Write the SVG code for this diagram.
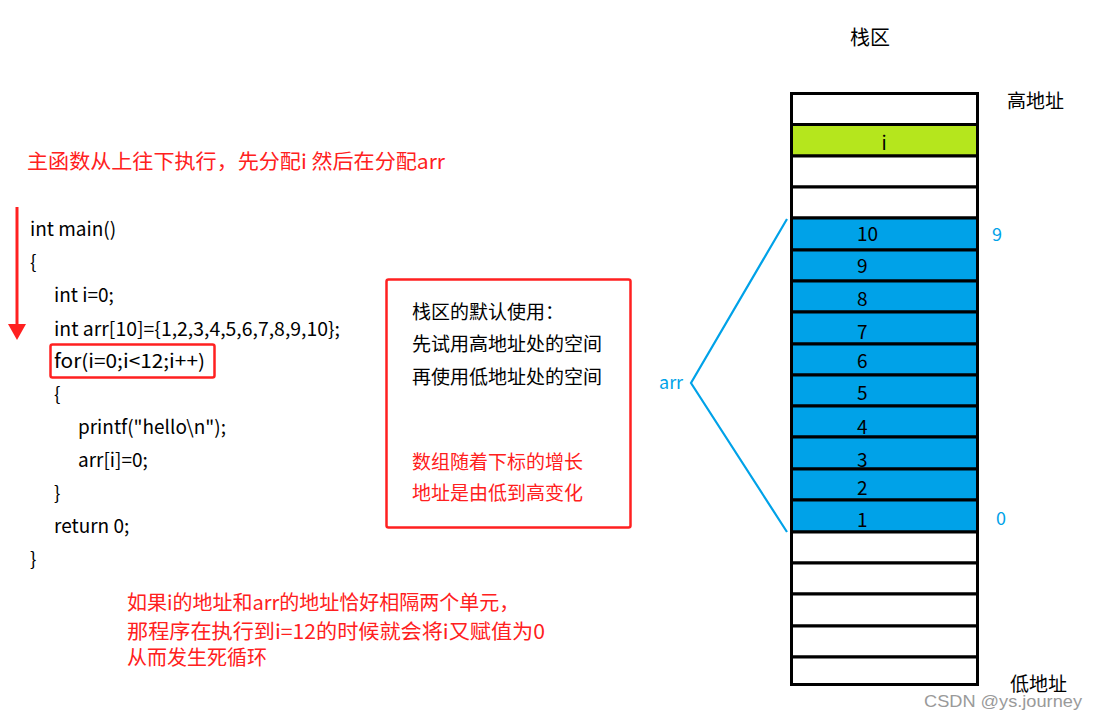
<svg xmlns="http://www.w3.org/2000/svg" width="1097" height="721" viewBox="0 0 1097 721">
<style>
text{font-family:"Noto Sans CJK SC","Noto Sans",sans-serif;}
.code{font-size:19px;fill:#000;}
.red{fill:#FF2020;font-size:20px;}
.redbox{fill:#FF2020;font-size:19px;}
.blk{fill:#000;font-size:19px;}
.blue{fill:#00A2E8;font-size:18px;}
.num{fill:#000;font-size:19px;}
.cell{stroke:#000;stroke-width:3;}
.w{fill:#fff;}
.g{fill:#B5E61D;}
.b{fill:#00A2E8;}
</style>
<defs>
<marker id="redHead" viewBox="0 0 16 18" refX="1" refY="9" markerWidth="16" markerHeight="18" markerUnits="userSpaceOnUse" orient="auto">
<path d="M0,0 L16,9 L0,18 Z" fill="#FF2020"/>
</marker>
</defs>
<rect width="1097" height="721" fill="#fff"/>

<g id="title">
<text class="red" x="27" y="169" textLength="418" lengthAdjust="spacingAndGlyphs">主函数从上往下执行，先分配i 然后在分配arr</text>
</g>

<g id="code">
<text class="code" x="30" y="236">int main()</text>
<text class="code" x="30" y="269">{</text>
<text class="code" x="54" y="302">int i=0;</text>
<text class="code" x="54" y="336" textLength="286" lengthAdjust="spacingAndGlyphs">int arr[10]={1,2,3,4,5,6,7,8,9,10};</text>
<text class="code" x="54" y="368" textLength="151" lengthAdjust="spacingAndGlyphs">for(i=0;i&lt;12;i++)</text>
<text class="code" x="54" y="401">{</text>
<text class="code" x="78" y="434" textLength="148" lengthAdjust="spacingAndGlyphs">printf("hello\n");</text>
<text class="code" x="78" y="467">arr[i]=0;</text>
<text class="code" x="54" y="500">}</text>
<text class="code" x="54" y="533">return 0;</text>
<text class="code" x="30" y="566">}</text>
</g>

<g id="for-highlight">
<rect x="50.5" y="344.5" width="164" height="33" rx="2" fill="none" stroke="#FF2020" stroke-width="2.5"/>
</g>

<g id="note-box">
<rect x="386.5" y="279.5" width="244" height="248" rx="2" fill="none" stroke="#FF2020" stroke-width="2.5"/>
<text class="blk" x="412" y="319">栈区的默认使用：</text>
<text class="blk" x="412" y="351">先试用高地址处的空间</text>
<text class="blk" x="412" y="384">再使用低地址处的空间</text>
<text class="redbox" x="412" y="469">数组随着下标的增长</text>
<text class="redbox" x="412" y="500">地址是由低到高变化</text>
</g>

<g id="bottom-note">
<text class="red" x="127" y="610">如果i的地址和arr的地址恰好相隔两个单元，</text>
<text class="red" x="127" y="639" textLength="418" lengthAdjust="spacingAndGlyphs">那程序在执行到i=12的时候就会将i又赋值为0</text>
<text class="red" x="127" y="665">从而发生死循环</text>
</g>

<g id="stack-title">
<text class="blk" x="850" y="45" style="font-size:20px">栈区</text>
<text class="blk" x="1007" y="108">高地址</text>
<text class="blk" x="1010" y="691">低地址</text>
</g>

<g id="stack">
<rect class="cell w" x="791.5" y="93.5" width="186" height="31"/>
<rect class="cell g" x="791.5" y="124.5" width="186" height="31.5"/>
<rect class="cell w" x="791.5" y="156" width="186" height="31"/>
<rect class="cell w" x="791.5" y="187" width="186" height="31"/>
<rect class="cell b" x="791.5" y="218" width="186" height="32"/>
<rect class="cell b" x="791.5" y="250" width="186" height="31"/>
<rect class="cell b" x="791.5" y="281" width="186" height="31"/>
<rect class="cell b" x="791.5" y="312" width="186" height="32"/>
<rect class="cell b" x="791.5" y="344" width="186" height="31"/>
<rect class="cell b" x="791.5" y="375" width="186" height="31"/>
<rect class="cell b" x="791.5" y="406" width="186" height="31"/>
<rect class="cell b" x="791.5" y="437" width="186" height="32"/>
<rect class="cell b" x="791.5" y="469" width="186" height="31"/>
<rect class="cell b" x="791.5" y="500" width="186" height="32"/>
<rect class="cell w" x="791.5" y="532" width="186" height="31"/>
<rect class="cell w" x="791.5" y="563" width="186" height="31"/>
<rect class="cell w" x="791.5" y="594" width="186" height="32"/>
<rect class="cell w" x="791.5" y="626" width="186" height="31"/>
<rect class="cell w" x="791.5" y="657" width="186" height="27.5"/>
<text class="num" x="884" y="150" text-anchor="middle">i</text>
<text class="num" x="857" y="241">10</text>
<text class="num" x="857" y="273">9</text>
<text class="num" x="857" y="306">8</text>
<text class="num" x="857" y="339">7</text>
<text class="num" x="857" y="368">6</text>
<text class="num" x="857" y="400">5</text>
<text class="num" x="857" y="434">4</text>
<text class="num" x="857" y="467">3</text>
<text class="num" x="857" y="495">2</text>
<text class="num" x="857" y="527">1</text>
</g>

<g id="index-labels">
<text class="blue" x="992" y="241">9</text>
<text class="blue" x="996" y="525">0</text>
<text class="blue" x="659" y="389">arr</text>
</g>

<g id="connectors">
<line x1="17" y1="207" x2="17" y2="325" stroke="#FF2020" stroke-width="3" marker-end="url(#redHead)"/>
<polyline points="787,219 691,383 787,532" fill="none" stroke="#00A2E8" stroke-width="2.2"/>
</g>

<g id="watermark">
<text x="924" y="707" textLength="158" lengthAdjust="spacingAndGlyphs" style="font-family:'Liberation Sans','Noto Sans',sans-serif;font-size:17px;fill:#9a9a9a">CSDN @ys.journey</text>
</g>
</svg>
